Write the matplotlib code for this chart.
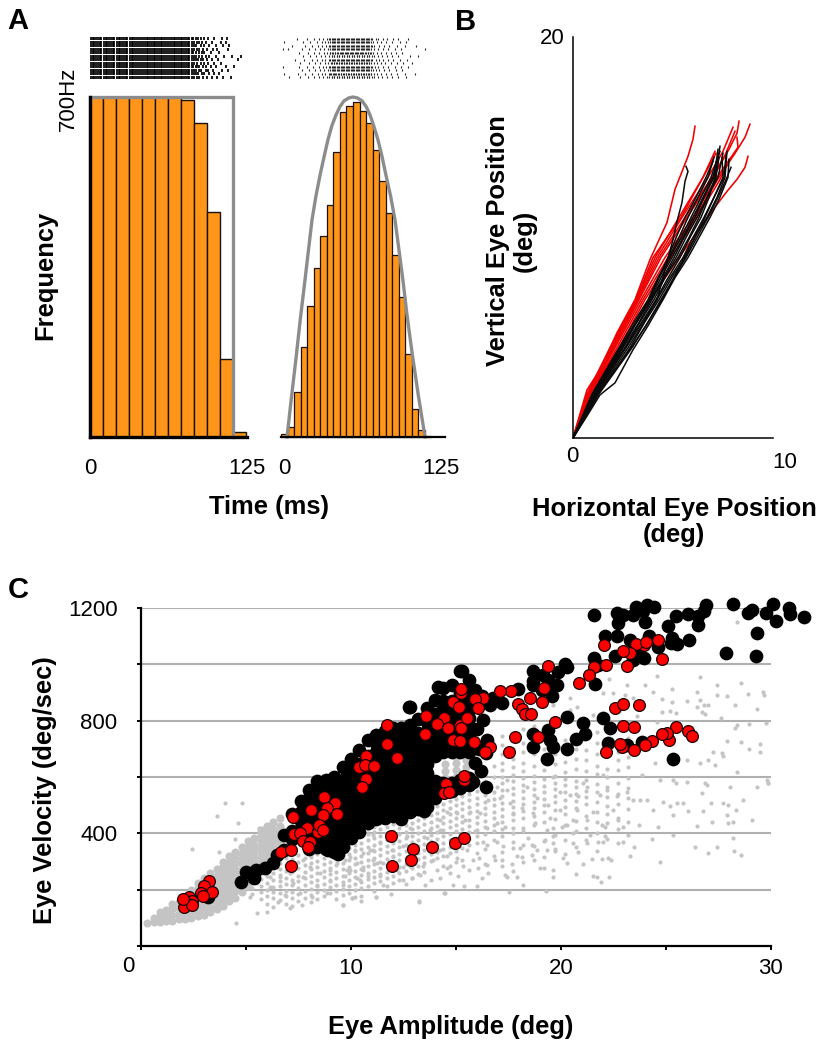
import numpy as np
import matplotlib
matplotlib.use('Agg')
import matplotlib.pyplot as plt

plt.rcParams['font.family'] = ['Liberation Sans', 'DejaVu Sans']

W, H = 828, 1050

# Panel A: histograms (Hz per bin)
left_bin_width = 10.35
left_rates = [700, 700, 700, 700, 700, 700, 700, 694, 647, 463, 161, 10]
right_bin_width = 5.21
right_start = -2.4
right_rates = [6, 21, 93, 185, 270, 348, 414, 478, 587, 669, 681, 690, 671, 647,
               591, 527, 461, 375, 288, 171, 58, 14, 2]
step_t = [0, 0, 113.9, 113.9]
step_hz = [0, 700, 700, 0]
parab_t = [2.4, 6, 9.6, 13, 16.7, 22.3, 25.5, 28.7, 32, 35, 38, 41.4, 44.5, 47.8, 51.5, 54.9, 58.5, 62.1,
           65.5, 68.5, 71.5, 74.8, 78, 81.2, 84.8, 88.4, 94.7, 98, 101.9, 107, 112.3]
parab_hz = [0, 83, 163, 243, 323, 447, 497, 539, 578, 612, 640, 663, 680, 692, 698, 700, 698, 692,
            680, 663, 640, 612, 578, 539, 497, 447, 323, 250, 175, 85, 0]

# Panel A: rasters (ms)
left_columns = [0.5, 2, 3.4, 4.8, 6.2, 7.6, 9, 11, 12.4, 13.8, 15.2, 16.6, 18, 19.4, 21.4, 22.8, 24.2,
                25.6, 27, 28.4, 29.8, 31.8, 33.2, 34.6, 36, 37.4, 38.8, 40.8, 42.2, 43.6, 45, 46.4,
                47.8, 49.2, 50.6, 52, 53.4, 54.8, 56.2, 57.6, 59, 60.4, 62.4, 63.8, 65.2, 66.6,
                68, 69.4, 70.8, 72.2, 73.6, 75, 76.4, 77.8, 79.2]
left_tails = [
    [81, 83, 85, 87, 90, 93, 97, 101, 106, 112],
    [81, 82.5, 84, 86, 89, 91, 95, 99, 103],
    [81, 83, 84.5, 87, 88.5, 92, 94, 98, 105, 110],
    [81, 82, 84, 85.5, 87, 90, 92, 96, 100, 108, 115],
    [81, 83, 85, 88, 91, 94, 99, 104],
    [81, 82.5, 84, 86, 88, 90, 93, 97, 102, 118],
    [81, 83, 84.5, 86.5, 89, 92, 95, 100, 107, 113, 120],
    [81, 82, 84, 87, 89, 91, 96, 103],
    [81, 83, 85, 86.5, 90, 93, 98, 101, 110],
    [81, 82.5, 84.5, 88, 91, 95, 100, 106, 111],
    [81, 83, 85, 87, 89.5, 92, 97, 104, 108],
    [81, 82, 84, 86, 88, 91, 94, 99, 105, 109],
]
right_core_a = [37, 39, 41, 43, 45, 47, 49, 51, 53, 55, 57, 59, 61, 63, 65, 67, 69]
right_core_b = [38, 40, 42, 44, 46, 48, 50, 52, 54, 56, 58, 60, 62, 64, 66, 68]
right_rows = [
    [4, 13, 19, 24, 28, 31, 34, 36, 38, 40, 42, 44, 46, 48, 50, 52, 54, 56, 58, 60, 62, 64, 66, 68, 70, 72, 75, 78, 82, 86, 91, 97],
    [0, 11, 17, 22, 27, 30, 33, 35.5, 37.5, 39.5, 41.5, 43.5, 45.5, 47.5, 49.5, 51.5, 53.5, 55.5, 57.5, 59.5, 61.5, 63.5, 65.5, 67.5, 69.5, 72, 74, 77, 81, 85, 90, 96, 104],
    [14, 20, 25, 29, 32, 35, 37, 39, 41, 43, 45, 47, 49, 51, 53, 55, 57, 59, 61, 63, 65, 67, 69, 71, 73.5, 76, 80, 84, 89, 94],
    [-1, 12, 18, 23, 27.5, 31, 33.5, 36, 38, 40, 42, 44, 46, 48, 50, 52, 54, 56, 58, 60, 62, 64, 66, 68, 70, 72.5, 75, 79, 83, 88, 93, 99],
    [13, 20, 24.5, 29, 32.5, 35, 37.5, 39.5, 41.5, 43.5, 45.5, 47.5, 49.5, 51.5, 53.5, 55.5, 57.5, 59.5, 61.5, 63.5, 65.5, 67.5, 69.5, 71.5, 74, 77, 80.5, 85, 90, 95, 102],
    [9, 16, 22, 26, 30, 33, 36, 38, 40, 42, 44, 46, 48, 50, 52, 54, 56, 58, 60, 62, 64, 66, 68, 70, 73, 76, 79, 83, 87, 92, 98],
    [15, 21, 25.5, 29.5, 33, 35.5, 38, 40, 42, 44, 46, 48, 50, 52, 54, 56, 58, 60, 62, 64, 66, 68, 70, 72, 75, 78, 82, 86, 91, 100, 107],
    [12, 19, 23.5, 28, 31.5, 34.5, 36.5, 38.5, 40.5, 42.5, 44.5, 46.5, 48.5, 50.5, 52.5, 54.5, 56.5, 58.5, 60.5, 62.5, 64.5, 66.5, 68.5, 71, 74, 77.5, 81, 85, 89, 94],
    [-1, 3, 14, 20, 25, 29, 32, 35, 37, 39, 41, 43, 45, 47, 49, 51, 53, 55, 57, 59, 61, 63, 65, 67, 69, 71.5, 75, 78.5, 83, 88, 93, 112],
    [6, 17, 22.5, 27, 30.5, 33.5, 36, 38, 40, 42, 44, 46, 48, 50, 52, 54, 56, 58, 60, 62, 64, 66, 68, 70, 72, 76, 80, 84, 90, 96, 105],
    [0, 15, 21, 26, 30, 33, 35, 37, 39, 41, 43, 45, 47, 49, 51, 53, 55, 57, 59, 61, 63, 65, 67, 69, 71, 74, 77, 81, 86, 92, 97],
    [10, 18, 24, 28, 31, 34, 36, 38, 40, 42, 44, 46, 48, 50, 52, 54, 56, 58, 60, 62, 64, 66, 68, 70, 73, 75, 79, 82, 87, 91, 99],
]

# Panel B: saccade traces (deg)
black_traces = [
    ([0, 0.7, 1.35, 2.1, 3.0, 3.75, 4.5, 5.1, 5.75, 6.3, 6.85, 7.3, 7.75, 7.8], [0, 1.1, 2.15, 2.75, 4.4, 5.6, 6.9, 8, 9, 10, 11, 11.9, 13, 13.9]),
    ([0, 0.65, 1.25, 2.05, 2.85, 3.6, 4.3, 5.0, 5.6, 6.15, 6.7, 7.2, 7.6, 7.7], [0, 1.1, 2.2, 3.3, 4.5, 5.8, 6.9, 8.1, 9, 10.1, 11, 12, 13, 14.3]),
    ([0, 1.2, 2.75, 3.5, 4.2, 4.85, 5.5, 6.0, 6.55, 7.0, 7.5, 7.45], [0, 2.2, 4.5, 5.7, 6.9, 8, 9, 10, 11, 11.9, 13, 14.0]),
    ([0, 1.15, 2.65, 3.35, 4.15, 4.7, 5.35, 5.9, 6.4, 6.8, 7.1, 7.35], [0, 2.2, 4.5, 5.6, 6.9, 7.9, 9, 10.1, 11, 12, 13, 14.55]),
    ([0, 1.1, 2.6, 3.3, 4.05, 4.6, 5.25, 5.8, 6.3, 6.75, 7.25, 7.5], [0, 2.2, 4.5, 5.7, 6.9, 8, 9, 10, 11, 12.1, 13, 14.2]),
    ([0, 1.1, 2.5, 3.2, 3.95, 4.55, 5.15, 5.65, 6.2, 6.7, 7.15, 7.3], [0, 2.2, 4.5, 5.6, 6.9, 8, 9, 10, 11, 12, 13, 14]),
    ([0, 1.05, 2.45, 3.15, 3.9, 4.45, 5.05, 5.6, 6.1, 6.55, 7.05, 7.25], [0, 2.2, 4.5, 5.7, 6.9, 7.9, 9, 10.1, 11, 12, 13, 14.4]),
    ([0, 1.0, 2.4, 3.1, 3.85, 4.4, 4.95, 5.5, 6, 6.5, 7.0, 7.2], [0, 2.2, 4.5, 5.7, 6.9, 8, 9, 10, 11, 12, 13, 13.9]),
    ([0, 1.0, 2.35, 3.05, 3.8, 4.3, 4.85, 5.4, 5.9, 6.4, 6.9, 7.35], [0, 2.2, 4.5, 5.6, 6.9, 8, 9, 10, 11, 12, 13, 14.3]),
    ([0, 0.95, 2.3, 3.0, 3.75, 4.25, 4.8, 5.3, 5.75, 6.25, 6.75, 7.05], [0, 2.2, 4.5, 5.7, 6.9, 8, 9, 10, 11, 12, 13, 14]),
    ([0, 1.0, 2.4, 3.1, 3.8, 4.3, 4.75, 5.2, 5.6, 6.15, 6.65, 7.0], [0, 2.2, 4.5, 5.7, 6.9, 8, 9, 10.1, 11, 12, 13, 13.8]),
    ([0, 1.2, 2.9, 3.65, 4.45, 5.0, 5.55, 6.1, 6.6, 7.05, 7.55, 7.65], [0, 2.2, 4.5, 5.6, 6.9, 7.9, 9, 10, 11, 12, 13, 14.1]),
    ([0, 1.3, 2.95, 3.7, 4.4, 5.05, 5.65, 6.2, 6.75, 7.25, 7.7, 7.9], [0, 2.2, 4.5, 5.7, 6.9, 8, 9, 10, 11, 12, 13, 13.5]),
    ([0, 1.0, 2.6, 3.4, 4.2, 4.6, 5.0, 5.2, 5.45, 5.6, 5.75, 5.65], [0, 2.2, 4.5, 5.7, 6.9, 8.4, 9.9, 10.8, 11.75, 12.8, 13.3, 13.55]),
]
red_traces = [
    ([0, 0.7, 1.35, 2.2, 3.1, 3.85, 4.7, 5.1, 5.75, 6.0, 6.1], [0, 2.4, 3.4, 5.25, 6.9, 8.9, 10.75, 12.4, 14.05, 14.9, 15.55]),
    ([0, 0.72, 1.9, 3.15, 4.0, 5.4, 6.5, 7.1], [0, 2.2, 4.5, 6.9, 9, 11, 13, 14.3]),
    ([0, 0.8, 2.05, 3.3, 4.4, 5.7, 7.0, 7.8, 8.2, 8.3], [0, 2.2, 4.5, 6.9, 9, 11, 13, 14.4, 15.2, 15.8]),
    ([0, 0.85, 2.2, 3.5, 4.75, 6.1, 7.3, 8.1, 8.6, 8.85], [0, 2.2, 4.5, 6.9, 9, 11, 13, 14.2, 15, 15.65]),
    ([0, 0.95, 2.4, 3.85, 5.3, 7.2, 7.7, 8.2, 8.6, 8.75], [0, 2.2, 4.5, 6.9, 9, 11.65, 12.3, 12.9, 13.5, 14.05]),
    ([0, 0.82, 2.1, 3.4, 4.6, 6.0, 7.2, 7.9, 8.25, 8.2], [0, 2.2, 4.5, 6.9, 9, 11, 13, 14, 14.5, 15]),
    ([0, 0.78, 2.0, 3.25, 4.3, 5.6, 6.95, 7.6, 8.1], [0, 2.2, 4.5, 6.9, 9, 11, 13, 14.1, 15.3]),
    ([0, 0.7, 1.85, 3.15, 4.1, 5.3, 6.5, 7.15], [0, 2.2, 4.5, 6.9, 9, 11, 13, 14.2]),
    ([0, 0.75, 1.95, 3.2, 4.2, 5.45, 6.75, 7.5, 8.0], [0, 2.2, 4.5, 6.9, 9, 11, 13, 14.3, 15.5]),
    ([0, 0.85, 2.3, 3.6, 4.9, 6.2, 7.3, 7.7], [0, 2.2, 4.5, 6.9, 9, 11, 12.8, 13.6]),
]

# Panel C: main sequence, gray trials (deg, deg/sec)
gray_dense = [
    (0.3, [82]), (0.6, [84, 98]), (0.9, [85, 103, 120]), (1.2, [88, 108, 128]),
    (1.5, [90, 110, 130, 148]), (1.8, [95, 115, 135, 155]), (2.1, [95, 115, 135, 155, 175]),
    (2.4, [100, 120, 140, 160, 180, 198]), (2.7, [105, 125, 145, 165, 185, 205, 222]),
    (3.0, [110, 130, 150, 170, 190, 210, 230, 242]), (3.3, [120, 140, 160, 180, 200, 220, 240, 258]),
    (3.6, [130, 150, 170, 190, 210, 230, 250, 272]), (3.9, [142, 165, 185, 205, 225, 245, 265, 285, 300]),
    (4.2, [160, 180, 200, 220, 240, 260, 280, 300, 318]), (4.5, [172, 195, 215, 235, 255, 275, 295, 315, 335]),
    (4.8, [190, 210, 230, 250, 270, 290, 310, 330, 352]), (5.1, [212, 232, 252, 272, 292, 312, 332, 352, 372]),
    (5.4, [240, 260, 280, 300, 320, 340, 360, 385]), (5.7, [272, 292, 312, 332, 352, 372, 395, 412]),
    (6.0, [305, 325, 345, 365, 385, 405, 425]), (6.3, [335, 355, 375, 395, 415, 440]),
    (6.6, [365, 385, 405, 425, 455]), (14.5, [595, 620, 645]), (15.0, [600, 625, 650, 670]),
    (15.5, [610, 635, 660]),
]
gray_mid = [
    (5.3, [185, 205, 228, 262, 301]), (5.7, [168, 190, 214, 238, 255, 283]), (6.0, [150, 178, 199, 223, 248, 271, 290]),
    (6.3, [140, 171, 193, 208, 236, 259, 282, 305, 321]), (6.6, [165, 188, 212, 229, 252, 275, 296, 318, 342]),
    (6.9, [150, 176, 197, 221, 243, 268, 288, 311, 336, 358]), (7.2, [143, 169, 191, 215, 233, 262, 284, 309, 330, 352, 371]),
    (7.5, [160, 183, 206, 229, 250, 277, 298, 323]), (7.8, [172, 194, 218, 241, 264, 286, 312, 336]),
    (8.1, [155, 181, 203, 226, 249, 272, 295, 317]), (8.4, [166, 190, 213, 236, 258, 281, 303, 327]),
    (8.7, [176, 199, 221, 244, 267, 290, 313]), (9.0, [187, 208, 231, 254, 277, 299, 322]),
    (9.3, [168, 194, 217, 240, 263, 286, 309, 331]), (9.6, [180, 203, 226, 249, 272, 295, 318, 340]),
    (9.9, [189, 212, 235, 258, 281, 304, 327, 349, 372]), (10.2, [175, 198, 221, 244, 267, 290, 313, 336, 359, 378]),
    (10.5, [205, 228, 251, 274, 297, 320, 343, 366, 389]), (10.8, [213, 237, 260, 283, 306, 329, 352, 375, 398, 416]),
    (11.1, [196, 222, 245, 268, 291, 314, 337, 360, 383, 406, 424]), (11.4, [231, 254, 277, 300, 323, 346, 369, 392, 415, 438]),
    (11.7, [212, 240, 263, 286, 309, 332, 355, 378, 401, 424, 447]), (12, [225, 249, 272, 295, 318, 341, 364, 387, 410, 433]),
    (12.3, [234, 258, 281, 304, 327, 350, 373, 396, 419, 442]), (12.6, [220, 267, 290, 313, 336, 359, 382, 405, 428, 451]),
    (12.9, [243, 276, 299, 322, 345, 368, 391, 414, 437, 460]), (13.2, [255, 285, 308, 331, 354, 377, 400, 423, 446, 469]),
    (13.5, [262, 294, 317, 340, 363, 386, 409, 432, 455]), (13.8, [235, 303, 326, 349, 372, 395, 418, 441, 464]),
    (14.1, [271, 312, 335, 358, 381, 404, 427, 450, 473, 496]), (14.4, [285, 321, 344, 367, 390, 413, 436, 459, 482, 505]),
    (14.7, [260, 330, 353, 376, 399, 422, 445, 468, 491, 514]), (15, [298, 339, 362, 385, 408, 431, 454, 477, 500, 523]),
    (15.3, [307, 348, 371, 394, 417, 440, 463, 486, 509, 532]), (15.6, [270, 357, 380, 403, 426, 449, 472, 495, 518, 541]),
    (16, [330, 366, 389, 412, 435, 458, 481, 504, 527, 550, 575]), (16.4, [290, 345, 398, 421, 444, 467, 490, 513, 536, 585, 610]),
    (16.8, [320, 375, 407, 430, 453, 476, 499, 522, 545, 600, 640]),
    (17.2, [283, 335, 392, 416, 439, 462, 485, 508, 531, 554, 577, 600, 625, 650, 680, 715, 745]),
    (17.7, [268, 348, 401, 447, 470, 493, 516, 539, 562, 585, 608, 635, 665, 700, 730]),
    (18.2, [298, 360, 410, 453, 480, 503, 526, 549, 572, 595, 620, 650, 690, 720, 770]),
    (18.7, [305, 355, 428, 462, 490, 513, 536, 559, 582, 605, 640, 680, 710, 780]),
    (19.2, [315, 372, 440, 475, 500, 523, 546, 569, 592, 625, 660, 700]),
    (19.7, [345, 393, 452, 482, 510, 533, 556, 579, 602, 645, 680, 720]),
    (20.2, [325, 378, 430, 470, 495, 520, 548, 571, 594, 617, 655, 690, 730]),
    (20.7, [350, 410, 445, 490, 515, 540, 563, 586, 630, 665, 700, 745]),
    (21.2, [375, 420, 460, 505, 530, 552, 590, 622, 660, 695, 775]),
    (21.7, [338, 400, 440, 475, 512, 545, 575, 610, 640, 680, 720, 760]),
    (22.2, [380, 435, 470, 498, 530, 565, 600, 630, 675, 715, 790]),
    (22.7, [365, 415, 455, 505, 540, 580, 625, 660, 690, 730]),
    (23.2, [395, 440, 485, 525, 560, 595, 635, 670, 740, 790]),
]
gray_x = [9.64, 10.04, 10.5, 10.5, 11.2, 11.9, 13.24, 14.45, 17.54, 19.29, 18.21, 9.72, 10.43, 10.83, 11.38, 11.54, 12.5, 12.89, 13.29, 13.53, 14.24, 14.56, 15.1, 14.88, 15.38, 15.99, 16.23, 17.34, 17.89, 17.42, 16.54, 19, 19.19, 19.61, 19.64, 20.7, 21.51, 21.73, 21.91, 22.3,
          16.07, 15.83, 16.11, 16.46, 16.86, 17.18, 17.65, 17.89, 18.13, 18.61, 18.85, 19.32, 19.72, 20.08, 20.27, 21.07, 21.46, 21.94, 22.26, 22.37, 23.29, 24.72, 26.38, 27.02, 27.42, 28.26, 28.58,
          20.83, 20.59, 21.23, 21.78, 22.02, 22.97, 23.48, 24.32, 25.35, 28.21, 22.1, 21.39, 20.59, 19.64, 19.64, 19.24, 18.61, 18.45, 18.05, 17.73, 17.26, 16.94, 16.46, 16.31,
          29.1, 28.21, 27.97, 27.18, 26.5, 24.64, 23.72, 22.94, 22.73, 21.94, 22.1, 21.23, 20.59, 20.27, 20.04, 19.64, 19.32, 18.77, 18.21, 17.73, 17.34, 16.94, 16.46, 15.9,
          29.32, 29.88, 28.69, 28.34, 27.89, 27.73, 27.97, 27.15, 26.78, 26.07, 25.83, 25.54, 25.35, 25.19, 24.88, 24.4, 24.08, 23.77, 23.45, 23.13, 22.65, 22.18, 21.86, 21.23, 20.83, 20.43, 19.96, 19.4, 18.85, 18.13, 17.58, 17.1, 16.54, 17.73, 18.69, 19.48, 19.96, 20.75, 21.54, 22.5, 25.35, 25.99, 26.94, 26.7, 24.72, 23.84, 22.02, 21.07, 19.64, 18.37, 17.42, 16.94, 17.42,
          10.9, 11.94, 12.5, 13.45, 14.56, 15.04, 15.51, 14.24, 13.61, 12.81, 13.77, 14.24, 15.43, 15.04, 15.67, 14.56, 14.24, 16.15, 12.65, 11.38, 11.07, 10.27, 9.96, 10.59, 11.54, 12.18, 12.81, 13.92, 14.72, 15.35, 9.72, 10.19, 11.07, 11.07,
          4, 4.8, 3.63, 4.63, 2.41, 4.48, 3.73, 5.62, 6.14, 6.62, 6.38, 5.19, 5.51, 6, 4.52, 6.54, 7.1, 7.65, 8.13, 6.86, 7.57, 8.84, 9.64, 10.03, 11.19, 13.24, 14.48,
          5.51, 6.14, 6.62, 7.25, 7.73, 8.37, 9, 9.64, 10.27, 9, 8.52, 8.05, 9.32, 9.79, 10.59, 7.73, 7.1, 6.46, 5.83, 6.14, 9.95, 10.59, 11.22, 12, 12.49,
          28.37, 26.62, 24.59, 22.29, 23.13, 24, 25.27, 26.46, 27.45, 28.57, 27.45, 27.9, 28.92, 29.6, 29.67, 28.29, 29.35, 26.62, 26.8, 27, 26.46, 26.7, 26.86, 27.62, 29.77, 28.97, 28.37, 28.29, 27.9, 28.56, 29.48, 28.97, 29.48, 27.26, 27.65, 27.7, 27.34, 27, 28.37, 29.8, 29.88, 28.05, 26.86, 25.5, 24.48, 25.2, 25.99, 26.62, 24.8, 25.2, 25.5, 24.4, 24.8, 25.27, 25.99, 23.45, 23.05, 22.5, 22.02, 20.43, 20.75, 20.43, 19.64, 21.54, 23.6, 24.56]
gray_y = [147, 171, 177, 159, 174, 186, 159, 188, 191, 194, 215, 247, 236, 247, 247, 218, 236, 241, 253, 218, 241, 277, 247, 218, 212, 212, 241, 253, 245, 245, 259, 277, 277, 245, 271, 256, 247, 245, 227, 245,
          277, 306, 312, 289, 306, 306, 291, 318, 316, 324, 342, 342, 336, 312, 295, 291, 309, 309, 312, 304, 320, 300, 351, 330, 351, 336, 322,
          332, 365, 365, 371, 371, 368, 351, 381, 395, 383, 389, 395, 401, 365, 389, 377, 359, 383, 348, 371, 354, 371, 359, 371,
          448, 439, 436, 439, 427, 424, 430, 424, 448, 430, 424, 448, 448, 430, 424, 418, 413, 436, 418, 418, 424, 436, 418, 407,
          566, 578, 519, 483, 466, 507, 501, 507, 480, 480, 507, 509, 466, 497, 513, 483, 519, 519, 519, 548, 531, 554, 536, 566, 531, 536, 548, 501, 525, 489, 507, 525, 519, 471, 471, 454, 483, 483, 477, 483, 590, 584, 572, 542, 590, 607, 607, 578, 601, 566, 554, 566, 590,
          342, 342, 354, 283, 318, 312, 342, 342, 383, 418, 413, 448, 448, 471, 477, 477, 413, 471, 389, 365, 306, 294, 271, 271, 294, 271, 283, 306, 283, 283, 306, 342, 395, 342,
          507, 507, 463, 436, 343, 380, 335, 418, 430, 448, 436, 175, 116, 122, 80, 157, 134, 145, 175, 181, 187, 187, 146, 169, 173, 157, 187,
          222, 211, 246, 222, 246, 217, 234, 217, 240, 270, 258, 282, 293, 270, 282, 305, 258, 282, 270, 246, 317, 329, 293, 317, 282,
          1149, 954, 960, 947, 927, 927, 912, 903, 927, 935, 892, 886, 894, 903, 892, 854, 841, 874, 856, 856, 850, 832, 824, 811, 791, 787, 785, 773, 729, 724, 716, 699, 687, 688, 684, 676, 641, 661, 617, 590, 578, 566, 578, 578, 649, 661, 661, 649, 832, 835, 826, 903, 876, 868, 871, 880, 892, 897, 897, 880, 850, 838, 856, 821, 815, 797]

# Panel C: black trials, mass as columns then single points
black_mass = [
    (6.8, [340, 395]), (7.2, [380, 410, 470]), (7.6, [385, 415, 445, 475, 515]),
    (8.0, [345, 375, 405, 435, 465, 495, 525, 555]), (8.4, [350, 380, 410, 440, 470, 500, 530, 560, 585]),
    (8.8, [345, 375, 405, 435, 465, 495, 525, 555, 590]), (9.2, [335, 365, 395, 425, 455, 485, 515, 545, 575, 600]),
    (9.6, [350, 380, 410, 440, 470, 500, 530, 560, 590, 635]), (10.0, [385, 415, 445, 475, 505, 535, 565, 595, 625, 665]),
    (10.4, [405, 435, 465, 495, 525, 555, 585, 615, 645, 695]), (10.8, [435, 465, 495, 525, 555, 585, 615, 645, 675, 730]),
    (11.2, [450, 480, 510, 540, 570, 600, 630, 660, 690, 720, 748]), (11.6, [455, 485, 515, 545, 575, 605, 635, 665, 695, 725, 765]),
    (12.0, [460, 490, 520, 550, 580, 610, 640, 670, 700, 730, 775]), (12.4, [462, 495, 525, 555, 585, 615, 645, 675, 705, 735, 775]),
    (12.8, [475, 505, 535, 565, 595, 625, 655, 685, 715, 745, 785, 848]), (13.2, [485, 515, 545, 575, 605, 635, 665, 695, 725, 755, 805]),
    (13.6, [495, 525, 555, 585, 615, 645, 675, 705, 735, 765, 795, 845]), (14.0, [525, 555, 585, 675, 705, 735, 765, 795, 825, 875]),
    (14.4, [548, 580, 690, 720, 750, 780, 810, 840, 870, 915]), (14.8, [552, 578, 690, 720, 750, 780, 810, 840, 870, 925]),
    (15.2, [562, 588, 690, 720, 750, 780, 810, 840, 870, 900, 975]), (15.6, [572, 598, 690, 720, 750, 780, 810, 840, 870, 900, 945]),
]
black_x = [4.75, 5, 5.38, 5.48, 5.9, 6.3, 6.46, 3.2, 8.92, 9.4, 12.4, 13.5, 12.75, 14.16, 15.3,
           21.57, 22.65, 22.97, 23.56, 24.08, 24.45, 23.45, 23.92, 24, 22.73, 25.11, 25.46, 26.04, 26.51, 26.54, 26.83, 26.92, 28.19, 28.89, 29.08, 29.76, 30.1, 30.88, 30.92, 30.23, 31.56, 29.35, 27.84, 29.29,
           22.1, 22.65, 23.29, 24.19, 25.3, 25.51, 25.24, 26.1, 24.64, 23.69, 23.97, 23.45, 22.57, 21.57, 21.78, 21.64,
           18.69, 20.19, 20.3, 19.88, 19.16, 18.69, 19.4, 19.83, 18.69, 19.4, 19.56, 19.08,
           17.97, 16.78, 16.62, 17.18, 15.91, 16.23, 20.3, 21.99, 21.07, 21.15, 20.72, 22.34, 22.26, 23.84, 23.13, 20.27, 19.64, 19.48, 19.4, 18.69, 18.69, 19.32, 25.35,
           16.3, 16, 16.46, 16.43, 15.83, 16.43, 16.2, 15.9, 16.1]
black_y = [226, 264, 240, 270, 276, 294, 323, 175, 341, 327, 450, 480, 848, 921, 977,
           1176, 1182, 1176, 1205, 1211, 1205, 1176, 1188, 1152, 1146, 1137, 1172, 1179, 1140, 1172, 1191, 1211, 1215, 1184, 1194, 1184, 1215, 1199, 1178, 1153, 1168, 1111, 1042, 1028,
           1099, 1101, 1087, 1099, 1093, 1072, 1075, 1087, 1063, 1051, 1022, 1016, 1028, 1022, 998, 930,
           977, 1002, 990, 974, 963, 942, 945, 927, 927, 920, 886, 909,
           913, 880, 856, 862, 909, 886, 812, 809, 791, 752, 734, 773, 722, 726, 714, 700, 706, 732, 767, 753, 705, 665, 665,
           803, 770, 732, 684, 584, 566, 620, 650, 700]

red_x = [22.03, 24.6, 23.96, 23.56, 24.03, 23.27, 22.96, 24.83, 23.15, 22.16, 21.57, 21.34, 20.88, 19.37, 19.19, 19.08, 18.54, 17.64, 17.11, 16.27, 15.89, 16.07, 17.97, 18.16, 18.29, 18.59, 22.56, 22.97, 23.73, 19.72, 18.91, 17.81, 17.51, 16.61, 16.38, 15.84, 22.96, 23.5, 25.48, 26.04, 26.24, 25.16, 25.05, 24.8, 24.35, 24.02, 23.48, 22.92, 22.8, 22.16,
         11.71, 11.71, 12.17, 10.73, 10.38, 10.67, 11.11, 10.73, 10.51, 13.57, 14.43, 14.08, 14.62, 13.51, 14.84, 15.16, 15.25, 15.22, 15.19, 15.22, 14.84, 15.19, 15.54, 15.38, 15.38, 14.51,
         14.44, 14.68, 8.7, 9.22, 8.86, 8.11, 8.68, 9.33, 7.24, 7.89, 8.41, 8.48, 8.68, 7.3, 7.57, 7.73, 8.05, 7.97, 6.65, 7.14, 7.13, 11.89, 12.94, 13.86, 14.95, 15.38, 12.87, 11.97,
         3.22, 3, 3.37, 2.84, 2.97, 2.27, 2.44, 2.1, 2.06, 2.44, 2]
red_y = [1067, 1085, 1067, 1072, 1081, 1041, 1046, 1019, 993, 997, 989, 963, 932, 993, 915, 868, 882, 907, 907, 882, 876, 844, 860, 842, 823, 824, 845, 860, 855, 795, 742, 742, 687, 705, 687, 725, 782, 777, 778, 765, 746, 733, 755, 752, 729, 712, 697, 708, 716, 687,
         786, 716, 668, 674, 635, 643, 638, 592, 566, 816, 811, 789, 773, 751, 868, 850, 898, 914, 785, 773, 733, 729, 808, 590, 604, 574,
         542, 548, 530, 509, 491, 483, 465, 470, 457, 418, 403, 430, 412, 397, 400, 373, 371, 353, 335, 341, 283, 392, 345, 353, 366, 384, 305, 284,
         229, 213, 193, 187, 178, 175, 161, 157, 137, 144, 166]

grid_levels = [200, 400, 600, 800, 1000, 1200]
c_yticks = [0, 200, 400, 600, 800, 1000, 1200]
c_ylabels = ['', '', '400', '', '800', '', '1200']
c_xticks = [0, 5, 10, 15, 20, 25, 30]
c_xlabels = ['', '', '10', '', '20', '', '30']


def axes_px(left, top, right, bottom):
    # axes box given in picture pixels
    return fig.add_axes([left / W, 1 - bottom / H, (right - left) / W, (bottom - top) / H])


def label_px(x, y, s, **kw):
    kw.setdefault('ha', 'center')
    kw.setdefault('va', 'center')
    fig.text(x / W, 1 - y / H, s, **kw)


fig = plt.figure(figsize=(W / 100, H / 100), dpi=100)
orange = '#ff9519'
gray_line = '#8c8c8c'

# A left histogram
ax = axes_px(90, 97, 247, 437)
ax.bar(left_bin_width * np.arange(len(left_rates)), left_rates, width=left_bin_width, align='edge',
       color=orange, edgecolor='#1a1208', linewidth=1.0, clip_on=False)
ax.plot(step_t, step_hz, color=gray_line, lw=2.4, solid_joinstyle='miter', clip_on=False)
ax.set_xlim(0, 125)
ax.set_ylim(0, 700)
ax.spines[['top', 'right']].set_visible(False)
ax.spines['left'].set_linewidth(2.4)
ax.spines['bottom'].set_linewidth(2.4)
ax.set_yticks([])
ax.set_xticks([0, 125], ['0', '125'], fontsize=16)
ax.tick_params(axis='x', length=0, pad=15)

# A right histogram
ax = axes_px(281, 97, 445, 437)
ax.bar(right_start + right_bin_width * np.arange(len(right_rates)), right_rates, width=right_bin_width,
       align='edge', color=orange, edgecolor='#1a1208', linewidth=0.9, clip_on=False)
ax.plot(parab_t, parab_hz, color=gray_line, lw=2.4, clip_on=False)
ax.set_xlim(-2.39, 128.2)
ax.set_ylim(0, 700)
ax.spines[['top', 'right', 'left']].set_visible(False)
ax.spines['bottom'].set_linewidth(1.6)
ax.set_yticks([])
ax.set_xticks([0, 125], ['0', '125'], fontsize=16)
ax.tick_params(axis='x', length=0, pad=15)

# A rasters
ax = axes_px(90, 37, 247, 79)
rows = [left_columns + tail for tail in left_tails]
ax.eventplot(rows, lineoffsets=np.arange(len(rows)), linelengths=0.88, linewidths=1.25, colors='k')
ax.set_xlim(0, 125)
ax.set_ylim(-0.5, len(rows) - 0.5)
ax.axis('off')

ax = axes_px(281, 37, 445, 79)
right_all = [r + (right_core_a if i % 2 else right_core_b) for i, r in enumerate(right_rows)]
ax.eventplot(right_all, lineoffsets=np.arange(len(right_all)), linelengths=0.7, linewidths=0.8,
             colors='#222222')
ax.set_xlim(-2.39, 128.2)
ax.set_ylim(-0.5, len(right_all) - 0.5)
ax.axis('off')

# B traces
ax = axes_px(573, 37, 773, 438)
for tx, ty in red_traces:
    ax.plot(tx, ty, color='#f00000', lw=1.15)
for tx, ty in black_traces:
    ax.plot(tx, ty, color='#0a0a0a', lw=1.1)
ax.set_xlim(0, 10)
ax.set_ylim(0, 20)
ax.spines[['top', 'right']].set_visible(False)
ax.spines['left'].set_linewidth(1.1)
ax.spines['bottom'].set_linewidth(1.1)
ax.set_xticks([])
ax.set_yticks([])

# C scatter
ax = axes_px(141, 608, 806, 946)
ax.hlines(grid_levels, 0, 30, color='#b0b0b0', lw=1.5, zorder=1)
dense_x = [x for x, ys in gray_dense for _ in ys]
dense_y = [y for x, ys in gray_dense for y in ys]
ax.scatter(dense_x, dense_y, s=34, color='#c4c4c4', linewidths=0, zorder=2, clip_on=False)
mid_x = [x for x, ys in gray_mid for _ in ys]
mid_y = [y for x, ys in gray_mid for y in ys]
ax.scatter(mid_x, mid_y, s=9, color='#c4c4c4', linewidths=0, zorder=2, clip_on=False)
ax.scatter(gray_x, gray_y, s=9, color='#c4c4c4', linewidths=0, zorder=2, clip_on=False)
mass_x = [x for x, ys in black_mass for _ in ys]
mass_y = [y for x, ys in black_mass for y in ys]
ax.scatter(mass_x + black_x, mass_y + black_y, s=98, color='k', linewidths=0, zorder=3, clip_on=False)
ax.scatter(red_x, red_y, s=72, color='#ff0000', edgecolor='#1a0000', linewidths=0.9, zorder=4, clip_on=False)
ax.set_xlim(0, 31.67)
ax.set_ylim(0, 1200)
ax.spines[['top', 'right']].set_visible(False)
ax.spines['left'].set_linewidth(1.6)
ax.spines['bottom'].set_linewidth(1.6)
ax.spines['bottom'].set_bounds(0, 30)
ax.set_xticks(c_xticks, c_xlabels, fontsize=16)
ax.set_yticks(c_yticks, c_ylabels, fontsize=16)
ax.tick_params(axis='x', length=3, width=1.4, pad=6)
ax.tick_params(axis='y', length=3, width=1.4, pad=14)

# text around the panels
bold = dict(fontweight='bold', fontsize=18.4)
label_px(18, 21, 'A', fontweight='bold', fontsize=21)
label_px(466, 22, 'B', fontweight='bold', fontsize=21)
label_px(18, 590, 'C', fontweight='bold', fontsize=21)
label_px(68, 99, '700Hz', fontsize=16, rotation=90)
label_px(45, 275, 'Frequency', rotation=90, **bold)
label_px(269, 507, 'Time (ms)', **bold)
label_px(552, 38, '20', fontsize=16)
label_px(572, 457, '0', fontsize=16)
label_px(785, 463, '10', fontsize=16)
label_px(511, 241, 'Vertical Eye Position\n(deg)', rotation=90, linespacing=1.15, **bold)
label_px(674, 522, 'Horizontal Eye Position\n(deg)', linespacing=1.15, **bold)
label_px(128, 967, '0', fontsize=16)
label_px(45, 790, 'Eye Velocity (deg/sec)', rotation=90, **bold)
label_px(451, 1027, 'Eye Amplitude (deg)', **bold)

fig.savefig('out.png', dpi=100)
